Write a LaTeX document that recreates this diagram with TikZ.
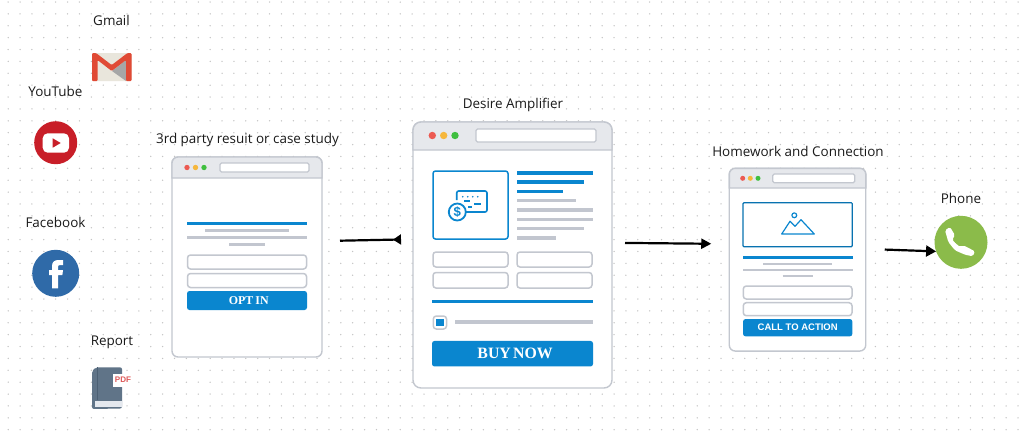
\documentclass[tikz,border=0pt]{standalone}
\usepackage{fontspec}
\setmainfont{Open Sans}
\newfontfamily\btnserif{Liberation Serif}
\newfontfamily\btnsans{Liberation Sans}
\usetikzlibrary{arrows.meta}
\def\px{0.2mm}
\definecolor{framegrey}{HTML}{C3C7CF}
\definecolor{headgrey}{HTML}{E6E8EC}
\definecolor{bargrey}{HTML}{C2C6CF}
\definecolor{barblue}{HTML}{0A86CF}
\definecolor{dotgrey}{HTML}{C4C4C4}
\definecolor{dotred}{HTML}{EC5A52}
\definecolor{dotamber}{HTML}{F6B73C}
\definecolor{dotgreen}{HTML}{3FBF3F}
\definecolor{gmailred}{HTML}{E04A35}
\definecolor{gmailbody}{HTML}{E9E6DC}
\tikzset{
  caption/.style={font=\fontsize{7.65}{10}\selectfont,inner sep=0pt,text=black!90},
  pageframe/.style={draw=framegrey,fill=white,rounded corners=6*\px,line width=1.4*\px,inner sep=0pt,outer sep=0pt},
  pagehead/.style={draw=framegrey,fill=headgrey,line width=1.4*\px},
  urlbox/.style={draw=framegrey,fill=white,rounded corners=1.5*\px,line width=1.2*\px},
  field/.style={draw=framegrey,fill=white,rounded corners=3*\px,line width=1.5*\px},
  btn/.style={fill=barblue,rounded corners=2.5*\px,text=white,inner sep=0pt,outer sep=0pt},
  blueline/.style={draw=barblue,line width=3*\px},
  greyline/.style={draw=bargrey,line width=2.8*\px},
  conn/.style={draw=black,line width=2.2*\px},
  icon/.style={circle,inner sep=0pt,outer sep=0pt},
}
\begin{document}
\begin{tikzpicture}[x=0.2mm,y=-0.2mm]
  \useasboundingbox (0,0) rectangle (1023,436);
  \fill[white] (0,0) rectangle (1023,436);
  % dotted canvas
  \foreach \i in {0,...,85}
    \foreach \j in {0,...,36}
      \fill[dotgrey] ({8.2+11.88*\i},{2+11.88*\j}) circle (0.75*\px);

  % gmail
  \node[caption] (gmailtxt) at (111.5,20.5) {Gmail};
  \node[fill=none,inner sep=0pt,minimum width=39*\px,minimum height=28*\px] (gmail) at (111.7,67) {};
  \fill[gmailbody,rounded corners=1.5*\px] (92,53) rectangle (131.5,81);
  \fill[black!35] (112,71) -- (126,60) -- (126,81) -- cycle;
  \fill[gmailred,rounded corners=1*\px] (92,81) -- (92,53) -- (96,53) -- (111.7,65) -- (127.5,53) -- (131.5,53) -- (131.5,81) -- (126,81) -- (126,60) -- (111.7,71) -- (97.5,60) -- (97.5,81) -- cycle;

  % youtube
  \node[caption] (yttxt) at (55.5,91.5) {YouTube};
  \node[icon,fill={rgb,255:red,200;green,30;blue,40},minimum size=43*\px] (yt) at (55.7,142.7) {};
  \fill[white,rounded corners=5*\px] (42.7,133.3) rectangle (69,152.7);
  \fill[fill={rgb,255:red,200;green,30;blue,40}] (52.7,138.3) -- (60.7,143) -- (52.7,147.7) -- cycle;

  % facebook
  \node[caption] (fbtxt) at (55.5,222) {Facebook};
  \node[icon,fill={rgb,255:red,47;green,106;blue,168},minimum size=47*\px] (fb) at (55.7,273.3) {};
  \fill[white] (52,288.3) -- (52,275) -- (49,275) -- (49,270) -- (52,270) -- (52,266)
    .. controls (52,261.5) and (55,260) .. (58.5,260) -- (63,260) -- (63,265) -- (60,265)
    .. controls (58.5,265) and (58,265.7) .. (58,267) -- (58,270) -- (63,270) -- (62.4,275) -- (58,275) -- (58,288.3) -- cycle;

  % report
  \node[caption] (reporttxt) at (112,342.5) {Report};
  \node[inner sep=0pt,minimum width=30*\px,minimum height=41*\px] (report) at (106.7,387.8) {};
  \fill[fill={rgb,255:red,96;green,116;blue,136},rounded corners=2*\px] (92,409) -- (92,371) -- (96,367.3) -- (122,367.3) -- (122,408.5) -- cycle;
  \fill[fill={rgb,255:red,76;green,96;blue,116}] (97,367.3) rectangle (98,400);
  \fill[fill={rgb,255:red,228;green,232;blue,238}] (95,401) rectangle (122,406.5);
  \fill[white] (113.3,374) rectangle (131.7,386.7);
  \node[text={rgb,255:red,222;green,90;blue,90},font=\btnsans\bfseries\fontsize{4.6}{5}\selectfont,inner sep=0pt] (pdftxt) at (123,380.2) {PDF};

  % opt-in page
  \node[caption] (optintxt) at (247.5,140) {3rd party resuit or case study};
  \node[pageframe,minimum width=150*\px,minimum height=200*\px] (optin) at (247,257) {};
  \draw[pagehead] [rounded corners=6*\px] (172,178) -- (172,157) -- (322,157) [sharp corners] -- (322,178) -- cycle;
  \draw[urlbox] (220,163) rectangle (309,172);
  \fill[dotred] (187,167.5) circle (2.7*\px);
  \fill[dotamber] (195.5,167.5) circle (2.7*\px);
  \fill[dotgreen] (204,167.5) circle (2.7*\px);
  \draw[blueline] (187,223.5) -- (307,223.5);
  \draw[greyline] (205,230.5) -- (289,230.5);
  \draw[greyline] (187,237.5) -- (307,237.5);
  \draw[greyline] (229,244.5) -- (265,244.5);
  \draw[field] (187.5,255) rectangle (306.5,269);
  \draw[field] (187.5,273.5) rectangle (306.5,287.5);
  \node[btn,minimum width=120*\px,minimum height=19*\px,font=\btnserif\bfseries\fontsize{6.8}{8}\selectfont] (optbtn) at (247,300.5) {\hspace{2pt}OPT\hspace{0.17em}IN};

  % buy now page
  \node[caption] (buytxt) at (513,104.5) {Desire Amplifier};
  \node[pageframe,minimum width=199*\px,minimum height=266*\px,rounded corners=8*\px] (buy) at (512.5,255) {};
  \draw[pagehead] [rounded corners=8*\px] (413,150) -- (413,122) -- (612,122) [sharp corners] -- (612,150) -- cycle;
  \draw[urlbox] (476,129) rectangle (596,142);
  \fill[dotred] (432.3,135.5) circle (3.7*\px);
  \fill[dotamber] (443.7,135.5) circle (3.7*\px);
  \fill[dotgreen] (455,135.5) circle (3.7*\px);
  \draw[draw=barblue,fill=white,rounded corners=2.5*\px,line width=1.5*\px] (433,171) rectangle (508,239);
  \draw[draw=barblue,rounded corners=2*\px,line width=1.6*\px] (456.7,200) -- (456.7,191) -- (487,191) -- (487,212) -- (466,212);
  \foreach \x in {462.7,467.7,472.7,477.7}
    \fill[barblue] (\x,196.7) circle (0.9*\px);
  \draw[draw=barblue,line width=1.5*\px] (464,201) -- (470,201);
  \draw[draw=barblue,line width=1.5*\px] (468,207) -- (472,207);
  \draw[draw=barblue,line width=2.4*\px] (474,204) -- (481,204);
  \node[icon,draw=barblue,fill=white,line width=1.8*\px,minimum size=17*\px] (coin) at (457.3,212) {};
  \node[text=barblue,font=\btnsans\bfseries\fontsize{7.5}{8}\selectfont,inner sep=0pt] (cointxt) at (coin) {\$};
  \draw[blueline,line width=3.5*\px] (517,173) -- (593,173);
  \draw[blueline,line width=3.5*\px] (517,182) -- (583.5,182);
  \draw[blueline,line width=3.5*\px] (517,191.3) -- (563,191.3);
  \draw[greyline,line width=3.3*\px] (517,200.7) -- (576,200.7);
  \draw[greyline,line width=3.3*\px] (517,210) -- (593,210);
  \draw[greyline,line width=3.3*\px] (517,219.3) -- (593,219.3);
  \draw[greyline,line width=3.3*\px] (517,228.7) -- (583.5,228.7);
  \draw[greyline,line width=3.3*\px] (517,238) -- (555.5,238);
  \draw[field] (433,252) rectangle (508,267);
  \draw[field] (517,252) rectangle (592,267);
  \draw[field] (433,272.5) rectangle (508,288);
  \draw[field] (517,272.5) rectangle (592,288);
  \draw[blueline,line width=3.5*\px] (432,301.3) -- (593,301.3);
  \draw[field] (433.3,316) rectangle (446.5,329);
  \fill[barblue] (436,318.5) rectangle (444,326.3);
  \draw[greyline,line width=3.5*\px] (455,322) -- (593,322);
  \node[btn,minimum width=161*\px,minimum height=25.5*\px,font=\btnserif\bfseries\fontsize{9}{10}\selectfont] (buybtn) at (512.5,353.7) {\hspace{3pt}BUY\hspace{0.15em}NOW};

  % call to action page
  \node[caption] (ctatxt) at (798,151) {Homework and Connection};
  \node[pageframe,minimum width=136.5*\px,minimum height=182.7*\px] (cta) at (797.5,259.7) {};
  \draw[pagehead] [rounded corners=6*\px] (729.3,188) -- (729.3,168.3) -- (865.8,168.3) [sharp corners] -- (865.8,188) -- cycle;
  \draw[urlbox] (772.7,174) rectangle (854.7,182.7);
  \fill[dotred] (742.7,178.3) circle (2.5*\px);
  \fill[dotamber] (750.3,178.3) circle (2.5*\px);
  \fill[dotgreen] (758,178.3) circle (2.5*\px);
  \draw[draw=barblue!85!black,fill=white,rounded corners=1*\px,line width=1.2*\px] (743,202.7) rectangle (852.3,246.7);
  \draw[draw=barblue,line width=1.2*\px,line join=round] (781.7,234) -- (790,221.3) -- (795,226.3) -- (801,219.7) -- (814.3,234) -- cycle;
  \draw[draw=barblue,fill=white,line width=1.2*\px] (794.3,215.3) circle (2.4*\px);
  \draw[blueline,line width=2.4*\px] (743,257.3) -- (852.7,257.3);
  \draw[greyline,line width=2.2*\px] (763,263.7) -- (832,263.7);
  \draw[greyline,line width=2.2*\px] (743,270) -- (852.7,270);
  \draw[greyline,line width=2.2*\px] (782.7,276.3) -- (813,276.3);
  \draw[field] (743.3,286) rectangle (852,299);
  \draw[field] (743.3,302.7) rectangle (852,315.7);
  \node[btn,minimum width=109.3*\px,minimum height=17.3*\px,font=\btnsans\bfseries\fontsize{5.4}{7}\selectfont] (ctabtn) at (797.7,327.7) {CALL TO ACTION};

  % phone
  \node[caption] (phonetxt) at (961,198.5) {Phone};
  \node[icon,fill={rgb,255:red,139;green,187;blue,74},minimum size=53*\px] (phone) at (961,242.3) {};
  \fill[white,rounded corners=1.6*\px] (945,230.3) -- (950,227) -- (955,235.3) -- (952.3,239.3)
    -- (954,242) -- (960,247) -- (963.3,245.3) -- (975,251.3) -- (972.7,256.3) -- (965,254.7)
    -- (955,250.3) -- (948.3,242) -- cycle;

  % connectors
  \path[conn] (optin.12) edge[shorten <=18*\px,shorten >=12*\px,-{Triangle[reversed,length=8*\px,width=10*\px]}] (buy.171);
  \path[conn] (buy.7) edge[shorten <=13*\px,shorten >=18*\px,-{Triangle[length=10*\px,width=10*\px]}] (cta.167);
  \path[conn] (cta.9) edge[shorten <=19*\px,-{Triangle[length=10*\px,width=11*\px]}] (phone.200);
\end{tikzpicture}
\end{document}
